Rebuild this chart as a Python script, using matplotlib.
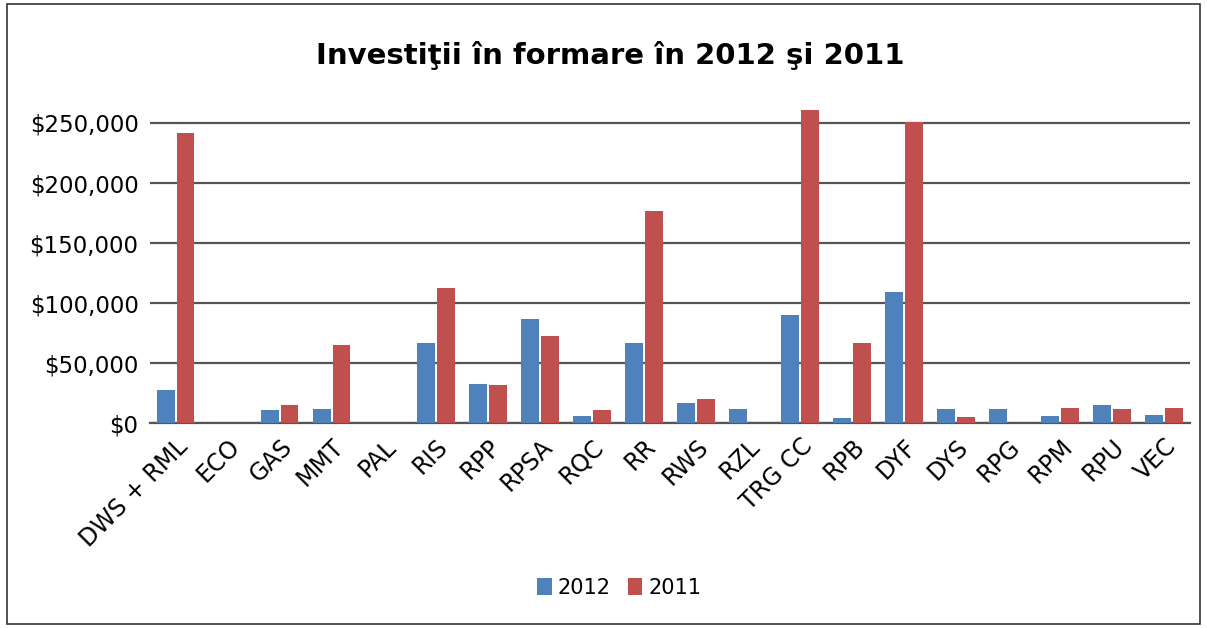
import matplotlib.pyplot as plt
import numpy as np
from matplotlib.patches import Rectangle
from matplotlib.ticker import FuncFormatter

plt.rcParams['font.family'] = ['DejaVu Sans']

categories = ["DWS + RML", "ECO", "GAS", "MMT", "PAL", "RIS", "RPP", "RPSA", "RQC", "RR",
              "RWS", "RZL", "TRG CC", "RPB", "DYF", "DYS", "RPG", "RPM", "RPU", "VEC"]
values_2012 = [28000, 0, 11000, 12000, 0, 67000, 33000, 87000, 6000, 67000,
               17000, 12000, 90000, 4000, 109000, 12000, 12000, 6000, 15000, 7000]
values_2011 = [242000, 0, 15000, 65000, 0, 113000, 32000, 73000, 11000, 177000,
               20000, 0, 261000, 67000, 251000, 5000, 0, 13000, 12000, 13000]
y_ticks = [0, 50000, 100000, 150000, 200000, 250000]

blue = "#4F81BD"
red = "#C0504D"

fig = plt.figure(figsize=(12.07, 6.28), dpi=100)
ax = fig.add_axes([0.124, 0.326, 0.862, 0.526])

x = np.arange(len(categories))
w = 0.34
ax.bar(x - 0.19, values_2012, w, color=blue, label="2012", zorder=3)
ax.bar(x + 0.19, values_2011, w, color=red, label="2011", zorder=3)

ax.set_xlim(-0.5, len(categories) - 0.5)
ax.set_ylim(0, 275000)
ax.set_yticks(y_ticks)
ax.yaxis.set_major_formatter(FuncFormatter(lambda v, p: "${:,.0f}".format(v)))
ax.grid(axis="y", color="#555555", linewidth=1.6, zorder=0)
ax.tick_params(length=0, labelsize=16.5, pad=8)
ax.set_xticks(x)
ax.set_xticklabels(categories, rotation=45, ha="right", rotation_mode="anchor", fontsize=17)
for s in ["top", "right", "left"]:
    ax.spines[s].set_visible(False)
ax.spines["bottom"].set_color("#555555")
ax.spines["bottom"].set_linewidth(1.6)

fig.text(0.506, 0.912, "Investiţii în formare în 2012 şi 2011", ha="center", va="center",
         fontsize=21, fontweight="bold")

handles, labels = ax.get_legend_handles_labels()
fig.legend(handles, labels, loc="center", bbox_to_anchor=(0.513, 0.064), ncol=2, frameon=False,
           fontsize=15, handlelength=0.7, handleheight=0.9, handletextpad=0.3, columnspacing=0.8)

fig.patches.append(Rectangle((0.006, 0.006), 0.988, 0.988, transform=fig.transFigure,
                             fill=False, edgecolor="#333333", linewidth=1.2))

fig.savefig("out.png", dpi=100)
